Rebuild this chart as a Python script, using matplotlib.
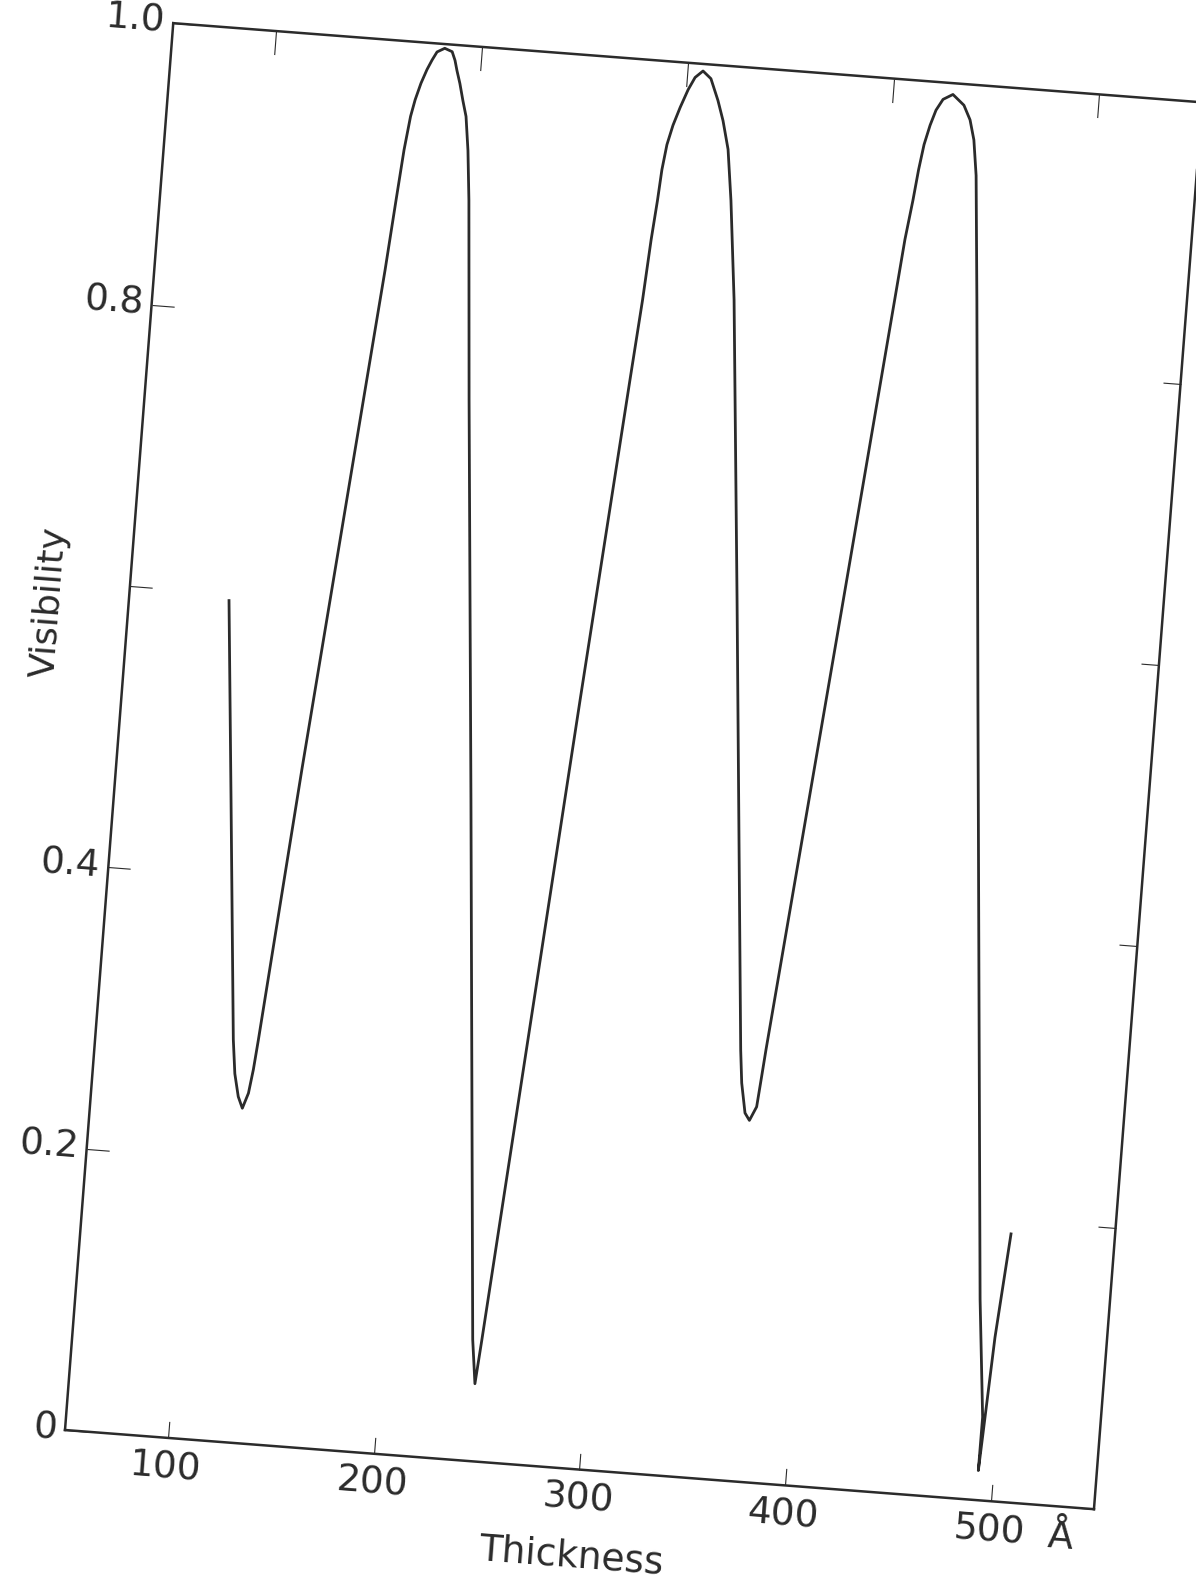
import matplotlib
matplotlib.use("Agg")
import matplotlib.pyplot as plt
from matplotlib.transforms import Affine2D
import mpl_toolkits.axisartist.floating_axes as floating_axes
from mpl_toolkits.axisartist.grid_finder import FixedLocator, DictFormatter

# curve (thickness in Angstrom, visibility)
thickness = [98.4, 106.8, 116.8, 118.8, 121.3, 123.7, 126.1, 127.6, 128.9,
             139.9, 152.4, 161.5, 164.2, 166.2, 168.1, 169.7, 171.9, 174.3,
             176.4, 178.5, 182.1, 185.8, 187.5, 188.8, 190.7, 192.8, 194.9,
             197.1, 199.4, 206.9, 222.7, 243.6, 246.3, 248.0, 256.9, 271.7,
             283.9, 287.0, 288.9, 290.5, 291.5, 293.0, 295.2, 298.0, 301.2,
             304.1, 307.7, 311.8, 316.0, 319.2, 322.7, 326.0, 331.2, 343.8,
             362.3, 364.0, 366.7, 369.1, 372.1, 373.4, 374.5, 394.5, 408.8,
             411.5, 413.9, 415.5, 417.2, 419.4, 421.7, 424.7, 429.3, 435.0,
             438.5, 441.1, 443.5, 448.5, 463.9, 487.2, 492.8, 492.7, 493.6,
             495.8, 499.7]
visibility = [0.595, 0.454, 0.285, 0.261, 0.245, 0.237, 0.248, 0.265, 0.286,
              0.480, 0.687, 0.837, 0.887, 0.923, 0.947, 0.959, 0.971, 0.981,
              0.988, 0.994, 0.997, 0.995, 0.989, 0.982, 0.973, 0.961, 0.950,
              0.926, 0.891, 0.750, 0.467, 0.086, 0.055, 0.086, 0.258, 0.544,
              0.773, 0.830, 0.873, 0.901, 0.923, 0.941, 0.955, 0.968, 0.981,
              0.990, 0.995, 0.990, 0.975, 0.961, 0.941, 0.905, 0.835, 0.623,
              0.305, 0.282, 0.261, 0.256, 0.266, 0.288, 0.307, 0.619, 0.844,
              0.887, 0.915, 0.937, 0.955, 0.969, 0.980, 0.988, 0.992, 0.985,
              0.975, 0.961, 0.936, 0.848, 0.565, 0.142, 0.059, 0.021, 0.048,
              0.116, 0.190]

x_ticks = [100, 200, 300, 400, 500]
x_labels = ["100", "200", "300", "400", "500"]
y_ticks = [0, 0.2, 0.4, 0.6, 0.8, 1.0]
y_labels = ["0", "0.2", "0.4", "", "0.8", "1.0"]
x_range = (50, 550)
y_range = (0, 1)

ink = "#2b2b2b"
W, H = 1196, 1576
tilt = -4.4

# the scanned page is tilted ~4.4 deg clockwise; map data -> figure pixels
tr = (Affine2D().translate(-x_range[0], 0).scale(2.064, 1411)
      .rotate_deg(tilt).translate(65, 146))

grid_helper = floating_axes.GridHelperCurveLinear(
    tr, extremes=(x_range[0], x_range[1], y_range[0], y_range[1]),
    grid_locator1=FixedLocator(x_ticks),
    grid_locator2=FixedLocator(y_ticks),
    tick_formatter1=DictFormatter(dict(zip(x_ticks, x_labels))),
    tick_formatter2=DictFormatter(dict(zip(y_ticks, y_labels))))

fig = plt.figure(figsize=(W / 100, H / 100), dpi=100)
ax = fig.add_axes([0, 0, 1, 1], axes_class=floating_axes.FloatingAxes,
                  grid_helper=grid_helper)
ax.set_xlim(0, W)
ax.set_ylim(0, H)
ax.set_autoscale_on(False)

tick_len = {"left": 16, "right": 13, "top": 17, "bottom": 12}
for side in ["left", "right", "top", "bottom"]:
    a = ax.axis[side]
    a.line.set_linewidth(1.8)
    a.line.set_color(ink)
    a.major_ticks.set_ticksize(tick_len[side])
    a.major_ticks.set_linewidth(1.6)
    a.major_ticks.set_color(ink)
    a.major_ticklabels.set_fontsize(27)
    a.major_ticklabels.set_color(ink)
    a.major_ticklabels.set_pad(9 if side == "bottom" else 6)

ax.axis["top"].major_ticklabels.set_visible(False)
ax.axis["right"].major_ticklabels.set_visible(False)

aux = ax.get_aux_axes(tr)
aux.plot(thickness, visibility, color=ink, lw=2.0)

# axis titles sit where the draughtsman lettered them
aux.text(299, -0.062, "Thickness", fontsize=27, color=ink, rotation=tilt,
         ha="center", va="center")
aux.text(12, 0.584, "Visibility", fontsize=26, color=ink, rotation=90 + tilt,
         ha="center", va="center")
aux.text(535, -0.022, "Å", fontsize=27, color=ink, rotation=tilt,
         ha="center", va="center")

fig.savefig("out.png", dpi=100)
